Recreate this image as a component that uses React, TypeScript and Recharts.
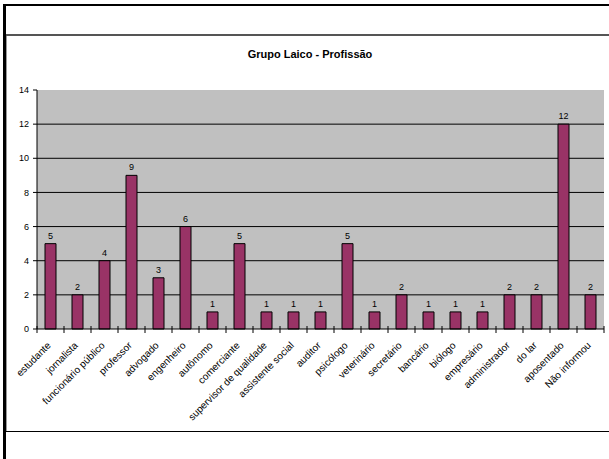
import React from "react";
import { Bar, BarChart, CartesianGrid, LabelList, XAxis, YAxis } from "recharts";

const professions = [
  "estudante",
  "jornalista",
  "funcionário público",
  "professor",
  "advogado",
  "engenheiro",
  "autônomo",
  "comerciante",
  "supervisor de qualidade",
  "assistente social",
  "auditor",
  "psicólogo",
  "veterinário",
  "secretário",
  "bancário",
  "biólogo",
  "empresário",
  "administrador",
  "do lar",
  "aposentado",
  "Não informou",
];
const counts = [5, 2, 4, 9, 3, 6, 1, 5, 1, 1, 1, 5, 1, 2, 1, 1, 1, 2, 2, 12, 2];
const yTicks = [0, 2, 4, 6, 8, 10, 12, 14];
const title = "Grupo Laico - Profissão";

const data = professions.map((name, i) => ({ name, value: counts[i] }));

const W = 609;
const H = 459;
const FONT = "'Liberation Sans', Arial, sans-serif";
const PLOT_LEFT = 37;
const PLOT_RIGHT = 5;
const BAND = (W - PLOT_LEFT - PLOT_RIGHT) / professions.length;

// tick marks sit on the category boundaries, labels under the bar centre
function CategoryTick(props: any) {
  const { x, y, payload, index, visibleTicksCount } = props;
  const half = payload?.offset || BAND / 2;
  const last = index === visibleTicksCount - 1;
  const lx = x + 1;
  const ly = y + 17;
  return (
    <g>
      <line x1={x - half} x2={x - half} y1={y - 3} y2={y + 4} stroke="#000" />
      {last && <line x1={x + half} x2={x + half} y1={y - 3} y2={y + 4} stroke="#000" />}
      <text
        x={lx}
        y={ly}
        transform={`rotate(-45 ${lx} ${ly})`}
        textAnchor="end"
        fontSize={10}
        fontFamily={FONT}
        fill="#000"
      >
        {payload.value}
      </text>
    </g>
  );
}

const line = (left: number, top: number, width: number, height: number, color: string) => (
  <div style={{ position: "absolute", left, top, width, height, background: color, zIndex: 2 }} />
);

export default function App() {
  return (
    <div
      style={{
        position: "absolute",
        left: 0,
        top: 0,
        width: W,
        height: H,
        background: "#fff",
        fontFamily: FONT,
      }}
    >
      <div style={{ position: "absolute", left: 0, top: 0, zIndex: 1 }}>
        <BarChart
          width={W}
          height={H}
          data={data}
          margin={{ top: 90, right: PLOT_RIGHT, left: 0, bottom: 30 }}
          barSize={11}
        >
          <CartesianGrid
            vertical={false}
            stroke="#000"
            fill="#c0c0c0"
            horizontalValues={yTicks.slice(1, -1)}
          />
          <XAxis
            dataKey="name"
            interval={0}
            height={100}
            axisLine={{ stroke: "#000" }}
            tickLine={false}
            tickSize={0}
            tickMargin={0}
            tick={<CategoryTick />}
          />
          <YAxis
            width={PLOT_LEFT}
            domain={[0, 14]}
            ticks={yTicks}
            interval={0}
            axisLine={{ stroke: "#000" }}
            tickLine={{ stroke: "#000" }}
            tickSize={4}
            tickMargin={4}
            tick={{ fontSize: 9, fill: "#000", fontFamily: FONT }}
          />
          <Bar dataKey="value" fill="#993366" stroke="#000" strokeWidth={1} isAnimationActive={false}>
            <LabelList
              dataKey="value"
              position="top"
              offset={5}
              fontSize={9}
              fill="#000"
              fontFamily={FONT}
            />
          </Bar>
        </BarChart>
      </div>

      {/* frame */}
      {line(3, 4, 3, H - 4, "#000")}
      {line(3, 4, W - 3, 2, "#000")}
      {line(6, 34, W - 6, 2, "#555")}
      {line(6, 36, 1, 395, "#999")}
      {line(6, 431, W - 6, 1, "#000")}

      <div
        style={{
          position: "absolute",
          left: 0,
          top: 48,
          width: 620,
          textAlign: "center",
          fontSize: 11,
          fontWeight: "bold",
          color: "#000",
          zIndex: 2,
        }}
      >
        {title}
      </div>
    </div>
  );
}
